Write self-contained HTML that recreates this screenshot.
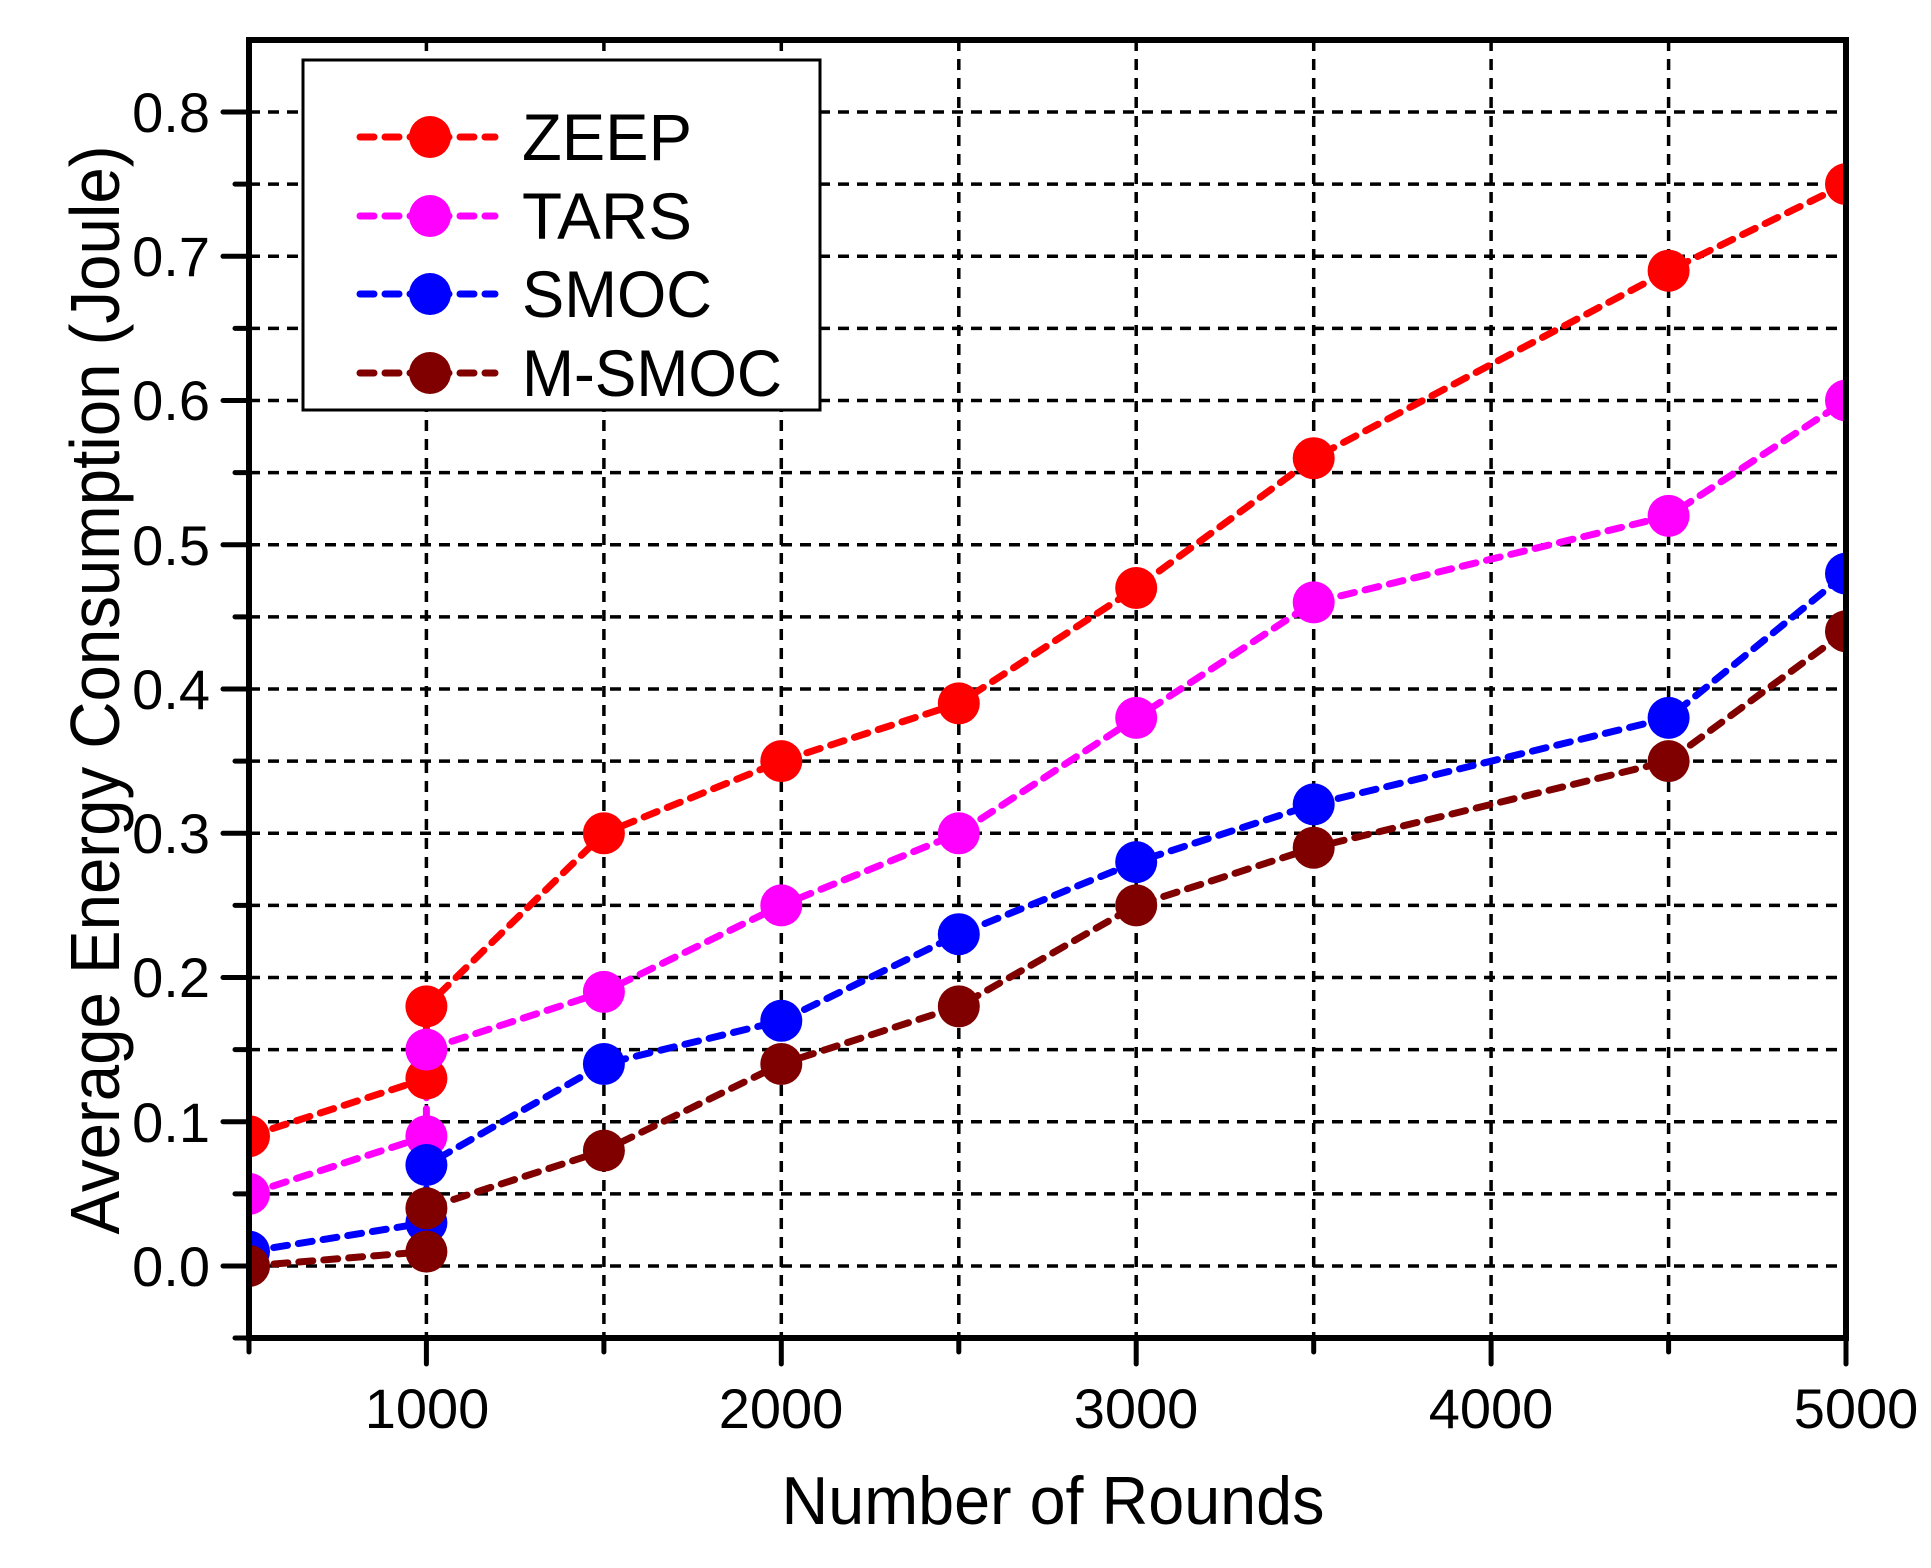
<!DOCTYPE html>
<html><head><meta charset="utf-8"><style>html,body{margin:0;padding:0;background:#fff}svg{display:block}</style></head>
<body>
<svg width="1931" height="1568" viewBox="0 0 1931 1568" xmlns="http://www.w3.org/2000/svg" font-family="Liberation Sans, Arial, sans-serif">
<defs><clipPath id="c"><rect x="249" y="40" width="1597" height="1298"/></clipPath></defs>
<rect width="1931" height="1568" fill="#fff"/>
<g stroke="#000" stroke-width="3.5" stroke-dasharray="11 8" fill="none">
<path d="M249 1266H1846M249 1193.9H1846M249 1121.7H1846M249 1049.6H1846M249 977.5H1846M249 905.4H1846M249 833.3H1846M249 761.1H1846M249 689H1846M249 616.9H1846M249 544.8H1846M249 472.6H1846M249 400.5H1846M249 328.4H1846M249 256.3H1846M249 184.1H1846M249 112H1846"/>
<path d="M426.4 40V1338M603.9 40V1338M781.3 40V1338M958.8 40V1338M1136.2 40V1338M1313.7 40V1338M1491.1 40V1338M1668.6 40V1338"/>
</g>
<g clip-path="url(#c)" stroke-width="7" stroke-linecap="round" stroke-dasharray="14 11" fill="none">
<polyline stroke="#ff0000" points="249,1136.2 426.4,1078.5 426.4,1006.4 603.9,833.3 781.3,761.1 958.8,703.4 1136.2,588 1313.7,458.2 1668.6,270.7 1846,184.1"/>
<polyline stroke="#ff00ff" points="249,1193.9 426.4,1136.2 426.4,1049.6 603.9,991.9 781.3,905.4 958.8,833.3 1136.2,717.9 1313.7,602.4 1668.6,515.9 1846,400.5"/>
<polyline stroke="#0000ff" points="249,1251.6 426.4,1222.7 426.4,1165 603.9,1064 781.3,1020.8 958.8,934.2 1136.2,862.1 1313.7,804.4 1668.6,717.9 1846,573.6"/>
<polyline stroke="#800000" points="249,1266 426.4,1251.6 426.4,1208.3 603.9,1150.6 781.3,1064 958.8,1006.4 1136.2,905.4 1313.7,847.7 1668.6,761.1 1846,631.3"/>
</g>
<g clip-path="url(#c)">
<g fill="#ff0000"><circle cx="249" cy="1136.2" r="21"/><circle cx="426.4" cy="1078.5" r="21"/><circle cx="426.4" cy="1006.4" r="21"/><circle cx="603.9" cy="833.3" r="21"/><circle cx="781.3" cy="761.1" r="21"/><circle cx="958.8" cy="703.4" r="21"/><circle cx="1136.2" cy="588" r="21"/><circle cx="1313.7" cy="458.2" r="21"/><circle cx="1668.6" cy="270.7" r="21"/><circle cx="1846" cy="184.1" r="21"/></g>
<g fill="#ff00ff"><circle cx="249" cy="1193.9" r="21"/><circle cx="426.4" cy="1136.2" r="21"/><circle cx="426.4" cy="1049.6" r="21"/><circle cx="603.9" cy="991.9" r="21"/><circle cx="781.3" cy="905.4" r="21"/><circle cx="958.8" cy="833.3" r="21"/><circle cx="1136.2" cy="717.9" r="21"/><circle cx="1313.7" cy="602.4" r="21"/><circle cx="1668.6" cy="515.9" r="21"/><circle cx="1846" cy="400.5" r="21"/></g>
<g fill="#0000ff"><circle cx="249" cy="1251.6" r="21"/><circle cx="426.4" cy="1222.7" r="21"/><circle cx="426.4" cy="1165" r="21"/><circle cx="603.9" cy="1064" r="21"/><circle cx="781.3" cy="1020.8" r="21"/><circle cx="958.8" cy="934.2" r="21"/><circle cx="1136.2" cy="862.1" r="21"/><circle cx="1313.7" cy="804.4" r="21"/><circle cx="1668.6" cy="717.9" r="21"/><circle cx="1846" cy="573.6" r="21"/></g>
<g fill="#800000"><circle cx="249" cy="1266" r="21"/><circle cx="426.4" cy="1251.6" r="21"/><circle cx="426.4" cy="1208.3" r="21"/><circle cx="603.9" cy="1150.6" r="21"/><circle cx="781.3" cy="1064" r="21"/><circle cx="958.8" cy="1006.4" r="21"/><circle cx="1136.2" cy="905.4" r="21"/><circle cx="1313.7" cy="847.7" r="21"/><circle cx="1668.6" cy="761.1" r="21"/><circle cx="1846" cy="631.3" r="21"/></g>
</g>
<rect x="249" y="40" width="1597" height="1298" fill="none" stroke="#000" stroke-width="6"/>
<g stroke="#000" stroke-width="5" stroke-linecap="round">
<path d="M249 1338v14M426.4 1338v26M603.9 1338v14M781.3 1338v26M958.8 1338v14M1136.2 1338v26M1313.7 1338v14M1491.1 1338v26M1668.6 1338v14M1846 1338v26"/>
<path d="M249 1266h-26M249 1193.9h-14M249 1121.7h-26M249 1049.6h-14M249 977.5h-26M249 905.4h-14M249 833.3h-26M249 761.1h-14M249 689h-26M249 616.9h-14M249 544.8h-26M249 472.6h-14M249 400.5h-26M249 328.4h-14M249 256.3h-26M249 184.1h-14M249 112h-26M249 1338h-14"/>
</g>
<g font-size="56" text-anchor="end" fill="#000">
<text x="210" y="1286">0.0</text><text x="210" y="1142">0.1</text><text x="210" y="997">0.2</text><text x="210" y="853">0.3</text><text x="210" y="709">0.4</text><text x="210" y="565">0.5</text><text x="210" y="420">0.6</text><text x="210" y="276">0.7</text><text x="210" y="132">0.8</text>
</g>
<g font-size="56" text-anchor="middle" fill="#000">
<text x="427" y="1428">1000</text><text x="781" y="1428">2000</text><text x="1136" y="1428">3000</text><text x="1491" y="1428">4000</text><text x="1856" y="1428">5000</text>
</g>
<text x="1053" y="1524" font-size="68" text-anchor="middle" textLength="543" lengthAdjust="spacingAndGlyphs">Number of Rounds</text>
<text transform="translate(119,690) rotate(-90)" font-size="70" text-anchor="middle" textLength="1089" lengthAdjust="spacingAndGlyphs">Average Energy Consumption (Joule)</text>
<rect x="303" y="60" width="517" height="350" fill="#fff" stroke="#000" stroke-width="3"/>
<g stroke-width="7" stroke-linecap="round" stroke-dasharray="14 11">
<path d="M360 137H495" stroke="#ff0000"/><path d="M360 216H495" stroke="#ff00ff"/><path d="M360 294H495" stroke="#0000ff"/><path d="M360 373H495" stroke="#800000"/>
</g>
<circle cx="430" cy="137" r="21" fill="#ff0000"/><circle cx="430" cy="216" r="21" fill="#ff00ff"/><circle cx="430" cy="294" r="21" fill="#0000ff"/><circle cx="430" cy="373" r="21" fill="#800000"/>
<g font-size="66" fill="#000">
<text x="522" y="160" textLength="170" lengthAdjust="spacingAndGlyphs">ZEEP</text><text x="522" y="239" textLength="170" lengthAdjust="spacingAndGlyphs">TARS</text><text x="522" y="317" textLength="190" lengthAdjust="spacingAndGlyphs">SMOC</text><text x="522" y="396" textLength="260" lengthAdjust="spacingAndGlyphs">M-SMOC</text>
</g>
</svg>
</body></html>
